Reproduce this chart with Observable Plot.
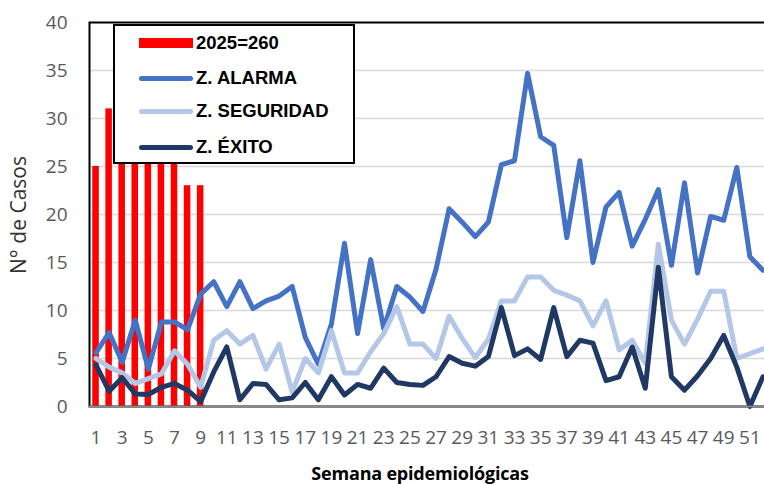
<!DOCTYPE html>
<html>
<head>
<meta charset="utf-8">
<script src="https://cdn.jsdelivr.net/npm/d3@7"></script>
<script src="https://cdn.jsdelivr.net/npm/@observablehq/plot@0.6"></script>
<style>
  html, body { margin: 0; padding: 0; background: #fff; overflow: hidden; }
  #wrap { position: relative; width: 775px; height: 484px; }
  #legend { position: absolute; left: 113px; top: 24px; width: 242px; height: 140px; box-sizing: border-box;
            border: 2px solid #000; background: #fff; }
  .sw { position: absolute; left: 24px; width: 54px; }
  .lt { position: absolute; left: 81px; font-family: "Liberation Sans", Arial, sans-serif; font-weight: bold;
        font-size: 18.5px; color: #000; line-height: 1; transform: translateY(-50%); white-space: nowrap; }
  #ytitle { position: absolute; left: 18px; top: 215px; transform: translate(-50%, -50%) rotate(-90deg);
            font-family: "Open Sans", sans-serif; font-size: 21px; color: #333; white-space: nowrap; line-height: 1; }
  #xtitle { position: absolute; left: 420px; top: 464px; transform: translateX(-50%); line-height: 18px;
            font-family: "Open Sans", sans-serif; font-weight: bold; font-size: 18px; color: #000; white-space: nowrap;
            letter-spacing: -0.2px; }
</style>
</head>
<body>
<div id="wrap">
  <div id="chart"></div>
  <div id="legend"></div>
  <div id="ytitle">N° de Casos</div>
  <div id="xtitle">Semana epidemiológicas</div>
</div>
<script>
// ---- Data ----
const weeks = [1,2,3,4,5,6,7,8,9,10,11,12,13,14,15,16,17,18,19,20,21,22,23,24,25,26,
               27,28,29,30,31,32,33,34,35,36,37,38,39,40,41,42,43,44,45,46,47,48,49,50,51,52];
const barWeeks = [1,2,3,4,5,6,7,8,9];
const cases2025 = [25,31,30,33,31,34,30,23,23];
const alarma = [5.6,7.7,4.6,9.0,3.9,8.8,8.8,8.0,11.7,13.0,10.4,13.0,10.2,11.0,11.5,12.5,7.2,4.4,8.6,17.0,
                7.6,15.3,8.1,12.5,11.4,9.9,14.3,20.6,19.2,17.7,19.2,25.2,25.6,34.7,28.1,27.2,17.6,25.6,15.0,20.8,
                22.3,16.7,19.5,22.6,14.7,23.3,13.9,19.8,19.4,24.9,15.6,14.2];
const seguridad = [5.0,4.1,3.5,2.4,2.9,3.4,5.8,4.4,2.0,6.9,7.9,6.5,7.4,3.9,6.5,1.5,5.0,3.5,7.9,3.5,
                   3.5,5.7,7.6,10.4,6.5,6.5,5.0,9.4,7.1,5.1,7.0,11.0,11.0,13.5,13.5,12.1,11.6,11.0,8.4,11.0,
                   5.9,6.9,4.5,16.9,9.0,6.5,9.1,12.0,12.0,5.0,5.5,6.0];
const exito = [4.3,1.6,3.0,1.3,1.25,2.0,2.4,1.7,0.5,3.6,6.2,0.7,2.4,2.3,0.7,0.9,2.5,0.7,3.1,1.2,
               2.3,1.9,4.0,2.5,2.3,2.2,3.1,5.2,4.5,4.2,5.2,10.3,5.3,6.0,4.9,10.3,5.2,6.9,6.6,2.7,
               3.1,6.2,1.9,14.5,3.1,1.7,3.2,5.0,7.4,4.1,0.0,3.1];
const xTicks = [1,3,5,7,9,11,13,15,17,19,21,23,25,27,29,31,33,35,37,39,41,43,45,47,49,51];
const yTicks = [0,5,10,15,20,25,30,35,40];
const seriesNames = ["2025=260", "Z. ALARMA", "Z. SEGURIDAD", "Z. ÉXITO"];
const seriesColors = ["#ff0000", "#4472c4", "#b4c7e7", "#203864"];

// ---- Tables ----
const bars = barWeeks.map((w, i) => ({week: w, value: cases2025[i]}));
const rows = weeks.map((w, i) => ({week: w, alarma: alarma[i], seguridad: seguridad[i], exito: exito[i]}));

const lineOpts = {strokeWidth: 5, strokeLinejoin: "round", strokeLinecap: "round"};

const chart = Plot.plot({
  width: 775,
  height: 484,
  marginLeft: 89,
  marginRight: 6,
  marginTop: 22,
  marginBottom: 78,
  style: {fontFamily: "Open Sans, sans-serif", fontSize: "19px", color: "#595959", background: "#fff"},
  x: {domain: [0.5, 52.5], ticks: xTicks, tickFormat: d => String(d), tickSize: 0, tickPadding: 24, label: null},
  y: {domain: [0, 40], ticks: yTicks, tickSize: 0, tickPadding: 22, label: null},
  marks: [
    Plot.ruleY(yTicks.filter(d => d > 0), {stroke: "#d9d9d9", strokeWidth: 1.6}),
    Plot.rectY(bars, {x1: d => d.week - 0.25, x2: d => d.week + 0.25, y: "value", fill: seriesColors[0]}),
    Plot.line(rows, {x: "week", y: "alarma", stroke: seriesColors[1], ...lineOpts}),
    Plot.line(rows, {x: "week", y: "seguridad", stroke: seriesColors[2], ...lineOpts}),
    Plot.line(rows, {x: "week", y: "exito", stroke: seriesColors[3], ...lineOpts}),
    Plot.frame({stroke: "#000", strokeWidth: 2}),
    Plot.ruleY([0], {stroke: "#8c8c8c", strokeWidth: 2})
  ]
});
document.getElementById("chart").appendChild(chart);

// ---- Legend ----
const legend = document.getElementById("legend");
const centers = [17, 52, 85, 121];
seriesNames.forEach((name, i) => {
  const sw = document.createElement("div");
  sw.className = "sw";
  const h = i === 0 ? 10 : 5;
  sw.style.top = (centers[i] - h / 2) + "px";
  sw.style.height = h + "px";
  sw.style.background = seriesColors[i];
  if (i > 0) sw.style.borderRadius = "3px";
  legend.appendChild(sw);
  const t = document.createElement("div");
  t.className = "lt";
  t.style.top = centers[i] + "px";
  t.textContent = name;
  legend.appendChild(t);
});
</script>
</body>
</html>
